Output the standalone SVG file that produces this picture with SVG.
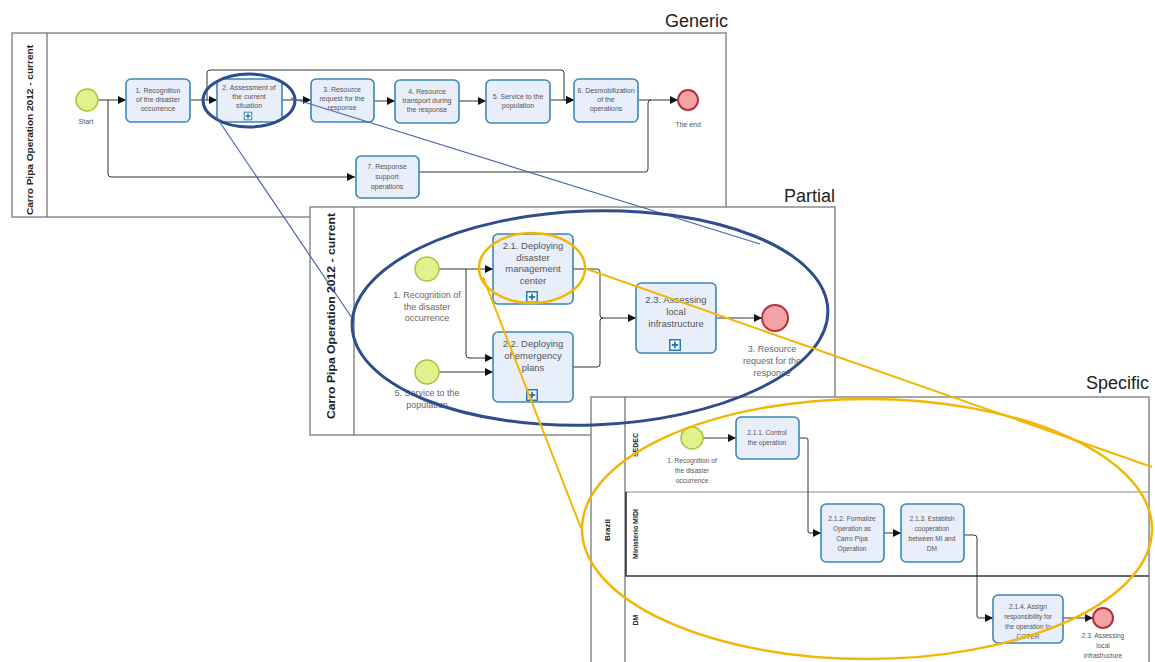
<svg xmlns="http://www.w3.org/2000/svg" xmlns:xlink="http://www.w3.org/1999/xlink" width="1155" height="662" viewBox="0 0 1155 662">
<style>
.pool{fill:#fff;stroke:#8a8a8a;stroke-width:1.5}
.band{fill:none;stroke:#6a6a6a;stroke-width:1.2}
.task{fill:#e9eefb;stroke:#3b87b3;stroke-width:1.6}
.start{fill:#e0f28e;stroke:#a9c43e;stroke-width:1.5}
.end{fill:#f2a3a5;stroke:#b82f3c;stroke-width:2}
.flow{fill:none;stroke:#333;stroke-width:1}
.t7{font-family:"Liberation Sans",Arial,sans-serif;font-size:7px;fill:#555;text-anchor:middle}
.t6{font-family:"Liberation Sans",Arial,sans-serif;font-size:6.6px;fill:#555;text-anchor:middle}
.t9{font-family:"Liberation Sans",Arial,sans-serif;font-size:9.5px;fill:#555;text-anchor:middle}
.ev9{font-family:"Liberation Sans",Arial,sans-serif;font-size:9px;fill:#666;text-anchor:middle}
.plbl{font-family:"Liberation Sans",Arial,sans-serif;font-weight:bold;fill:#222;text-anchor:middle}
.title{font-family:"Liberation Sans",Arial,sans-serif;font-size:18px;fill:#222;text-anchor:end}
.hlb{fill:none;stroke:#2f4c8c;stroke-width:3}
.hly{fill:none;stroke:#f2b705;stroke-width:2.5}
.lnb{fill:none;stroke:#4a68aa;stroke-width:1.2}
.lny{fill:none;stroke:#f2b705;stroke-width:2}
</style>
<defs>
<marker id="arr" viewBox="0 0 10 10" refX="10" refY="5" markerWidth="8" markerHeight="8" markerUnits="userSpaceOnUse" orient="auto"><path d="M0,0 L10,5 L0,10 z" fill="#111"/></marker>
<symbol id="plus" viewBox="0 0 12 12"><rect x="0.75" y="0.75" width="10.5" height="10.5" fill="#f4f8ff" stroke="#2b7bb0" stroke-width="1.5"/><path d="M6,2.8 V9.2 M2.8,6 H9.2" stroke="#2b7bb0" stroke-width="1.8"/></symbol>
</defs>
<rect width="1155" height="662" fill="#fff"/>

<!-- Titles -->
<text class="title" x="728" y="27">Generic</text>
<text class="title" x="835" y="202">Partial</text>
<text class="title" x="1149" y="389">Specific</text>

<!-- ============ GENERIC ============ -->
<g id="generic-pool">
<rect class="pool" x="12" y="33" width="714" height="184"/>
<line class="band" x1="47" y1="33" x2="47" y2="217"/>
<text class="plbl" font-size="9" transform="translate(33,130) rotate(-90)" textLength="170" lengthAdjust="spacingAndGlyphs">Carro Pipa Operation 2012 - current</text>
</g>
<g id="generic-connectors">
<path class="flow" d="M98,100 H126" marker-end="url(#arr)"/>
<path class="flow" d="M108,100 V174 Q108,177 111,177 H355" marker-end="url(#arr)"/>
<path class="flow" d="M190,100 H217" marker-end="url(#arr)"/>
<path class="flow" d="M207,100 V73 Q207,70 210,70 H561 Q564,70 564,73 V100 H574" marker-end="url(#arr)"/>
<path class="flow" d="M282,100 H311" marker-end="url(#arr)"/>
<path class="flow" d="M374,101 H395" marker-end="url(#arr)"/>
<path class="flow" d="M459,101 H486" marker-end="url(#arr)"/>
<path class="flow" d="M550,100 H574" marker-end="url(#arr)"/>
<path class="flow" d="M638,100 H678" marker-end="url(#arr)"/>
<path class="flow" d="M419,172 H645 Q648,172 648,169 V103 Q648,100 651,100"/>
</g>
<g id="g-start"><circle class="start" cx="87" cy="100" r="11"/><text class="t7" x="86" y="124">Start</text></g>
<g id="g-task1"><rect class="task" x="126" y="79" width="64" height="43" rx="5"/>
<text class="t7" x="158" y="93">1. Recognition</text><text class="t7" x="158" y="102">of the disaster</text><text class="t7" x="158" y="111">occurrence</text></g>
<g id="g-task2"><rect class="task" x="217" y="79" width="65" height="43" rx="5"/>
<text class="t7" x="249" y="90">2. Assessment of</text><text class="t7" x="249" y="99">the current</text><text class="t7" x="249" y="108">situation</text>
<use href="#plus" x="243.5" y="111.5" width="9" height="9"/></g>
<g id="g-task3"><rect class="task" x="311" y="79" width="63" height="43" rx="5"/>
<text class="t7" x="342" y="92">3. Resource</text><text class="t7" x="342" y="101">request for the</text><text class="t7" x="342" y="110">response</text></g>
<g id="g-task4"><rect class="task" x="395" y="80" width="64" height="43" rx="5"/>
<text class="t7" x="427" y="94">4. Resource</text><text class="t7" x="427" y="103">transport during</text><text class="t7" x="427" y="112">the response</text></g>
<g id="g-task5"><rect class="task" x="486" y="80" width="64" height="43" rx="5"/>
<text class="t7" x="518" y="99">5. Service to the</text><text class="t7" x="518" y="108">population</text></g>
<g id="g-task6"><rect class="task" x="574" y="79" width="64" height="43" rx="5"/>
<text class="t7" x="606" y="93">6. Desmobilization</text><text class="t7" x="606" y="102">of the</text><text class="t7" x="606" y="111">operations</text></g>
<g id="g-end"><circle class="end" cx="688" cy="100" r="10"/><text class="t7" x="688" y="127">The end</text></g>
<g id="g-task7"><rect class="task" x="356" y="156" width="63" height="42" rx="5"/>
<text class="t7" x="387" y="169">7. Response</text><text class="t7" x="387" y="179">support</text><text class="t7" x="387" y="189">operations</text></g>

<!-- ============ PARTIAL ============ -->
<g id="partial-pool">
<rect class="pool" x="310" y="207" width="525" height="228"/>
<line class="band" x1="354" y1="207" x2="354" y2="435"/>
<text class="plbl" font-size="11" transform="translate(335,316) rotate(-90)" textLength="206" lengthAdjust="spacingAndGlyphs">Carro Pipa Operation 2012 - current</text>
</g>
<g id="partial-connectors">
<path class="flow" d="M439,269 H493" marker-end="url(#arr)"/>
<path class="flow" d="M466,269 V355 Q466,358 469,358 H493" marker-end="url(#arr)"/>
<path class="flow" d="M439,372 H493" marker-end="url(#arr)"/>
<path class="flow" d="M573,269 H597 Q600,269 600,272 V315 Q600,318 603,318 H636" marker-end="url(#arr)"/>
<path class="flow" d="M573,367 H597 Q600,367 600,364 V321 Q600,318 603,318"/>
<path class="flow" d="M716,318 H762" marker-end="url(#arr)"/>
</g>
<g id="p-start1"><circle class="start" cx="427" cy="269" r="12"/>
<text class="ev9" x="427" y="298">1. Recognition of</text><text class="ev9" x="427" y="310">the disaster</text><text class="ev9" x="427" y="321">occurrence</text></g>
<g id="p-start5"><circle class="start" cx="427" cy="372" r="12"/>
<text class="ev9" x="427" y="396">5. Service to the</text><text class="ev9" x="427" y="408">population</text></g>
<g id="p-task21"><rect class="task" x="493" y="234" width="80" height="70" rx="5" stroke-width="2"/>
<text class="t9" x="533" y="249">2.1. Deploying</text><text class="t9" x="533" y="261">disaster</text><text class="t9" x="533" y="272">management</text><text class="t9" x="533" y="284">center</text>
<use href="#plus" x="526" y="291" width="12" height="12"/></g>
<g id="p-task22"><rect class="task" x="493" y="332" width="80" height="70" rx="5" stroke-width="2"/>
<text class="t9" x="533" y="347">2.2. Deploying</text><text class="t9" x="533" y="359">of emergency</text><text class="t9" x="533" y="371">plans</text>
<use href="#plus" x="526" y="389" width="12" height="12"/></g>
<g id="p-task23"><rect class="task" x="636" y="283" width="80" height="70" rx="5" stroke-width="2"/>
<text class="t9" x="676" y="303">2.3. Assessing</text><text class="t9" x="676" y="315">local</text><text class="t9" x="676" y="327">infrastructure</text>
<use href="#plus" x="669" y="339" width="12" height="12"/></g>
<g id="p-end"><circle class="end" cx="775" cy="318" r="13"/>
<text class="ev9" x="772" y="352">3. Resource</text><text class="ev9" x="772" y="364">request for the</text><text class="ev9" x="772" y="376">response</text></g>

<!-- ============ SPECIFIC ============ -->
<g id="specific-pool">
<rect class="pool" x="591" y="397" width="558" height="275"/>
<line class="band" x1="625" y1="397" x2="625" y2="662"/>
<line x1="625" y1="492" x2="1149" y2="492" stroke="#8a8a8a" stroke-width="1.2"/>
<path d="M626,492 V576 H1149" fill="none" stroke="#333" stroke-width="1.6"/>
<text class="plbl" font-size="8" transform="translate(610,530) rotate(-90)">Brazil</text>
<text class="plbl" font-size="7" transform="translate(638,445) rotate(-90)">SEDEC</text>
<text class="plbl" font-size="7" transform="translate(638,534) rotate(-90)">Ministerio MIDI</text>
<text class="plbl" font-size="7" transform="translate(638,620) rotate(-90)">DM</text>
</g>
<g id="specific-connectors">
<path class="flow" d="M703,438 H736" marker-end="url(#arr)"/>
<path class="flow" d="M799,438 H806 Q808,438 808,440 V531 Q808,533 810,533 H821" marker-end="url(#arr)"/>
<path class="flow" d="M884,533 H901" marker-end="url(#arr)"/>
<path class="flow" d="M964,535 H974 Q977,535 977,538 V616 Q977,618 979,618 H993" marker-end="url(#arr)"/>
<path class="flow" d="M1063,618 H1093" marker-end="url(#arr)"/>
</g>
<g id="s-start"><circle class="start" cx="692" cy="438" r="11"/>
<text class="t6" x="692" y="463">1. Recognition of</text><text class="t6" x="692" y="473">the disaster</text><text class="t6" x="692" y="483">occurrence</text></g>
<g id="s-task211"><rect class="task" x="736" y="417" width="63" height="42" rx="5"/>
<text class="t6" x="767" y="435">2.1.1. Control</text><text class="t6" x="767" y="445">the operation</text></g>
<g id="s-task212"><rect class="task" x="821" y="504" width="63" height="58" rx="5"/>
<text class="t6" x="852" y="521">2.1.2. Formalize</text><text class="t6" x="852" y="531">Operation as</text><text class="t6" x="852" y="541">Carro Pipa</text><text class="t6" x="852" y="551">Operation</text></g>
<g id="s-task213"><rect class="task" x="901" y="504" width="63" height="58" rx="5"/>
<text class="t6" x="932" y="521">2.1.3. Establish</text><text class="t6" x="932" y="531">cooperation</text><text class="t6" x="932" y="541">between MI and</text><text class="t6" x="932" y="551">DM</text></g>
<g id="s-task214"><rect class="task" x="993" y="595" width="70" height="48" rx="5"/>
<text class="t6" x="1028" y="609">2.1.4. Assign</text><text class="t6" x="1028" y="619">responsibility for</text><text class="t6" x="1028" y="629">the operation to</text><text class="t6" x="1028" y="639">COTER</text></g>
<g id="s-end"><circle class="end" cx="1103" cy="618" r="10"/>
<text class="t6" x="1103" y="638">2.3. Assessing</text><text class="t6" x="1103" y="648">local</text><text class="t6" x="1103" y="658">infrastructure</text></g>

<!-- ============ HIGHLIGHTS ============ -->
<g id="highlights">
<ellipse class="hlb" cx="249" cy="100.5" rx="46" ry="26.5"/>
<line class="lnb" x1="217" y1="118" x2="352" y2="318"/>
<line class="lnb" x1="291" y1="98" x2="760" y2="244"/>
<ellipse class="hlb" cx="590" cy="318" rx="238" ry="107" transform="rotate(-2 590 318)"/>
<ellipse class="hly" cx="532" cy="268" rx="53" ry="35"/>
<line class="lny" x1="483" y1="277" x2="581" y2="528"/>
<line class="lny" x1="584" y1="268" x2="1152" y2="467"/>
<ellipse class="hly" cx="867" cy="529" rx="285" ry="130"/>
</g>
</svg>
